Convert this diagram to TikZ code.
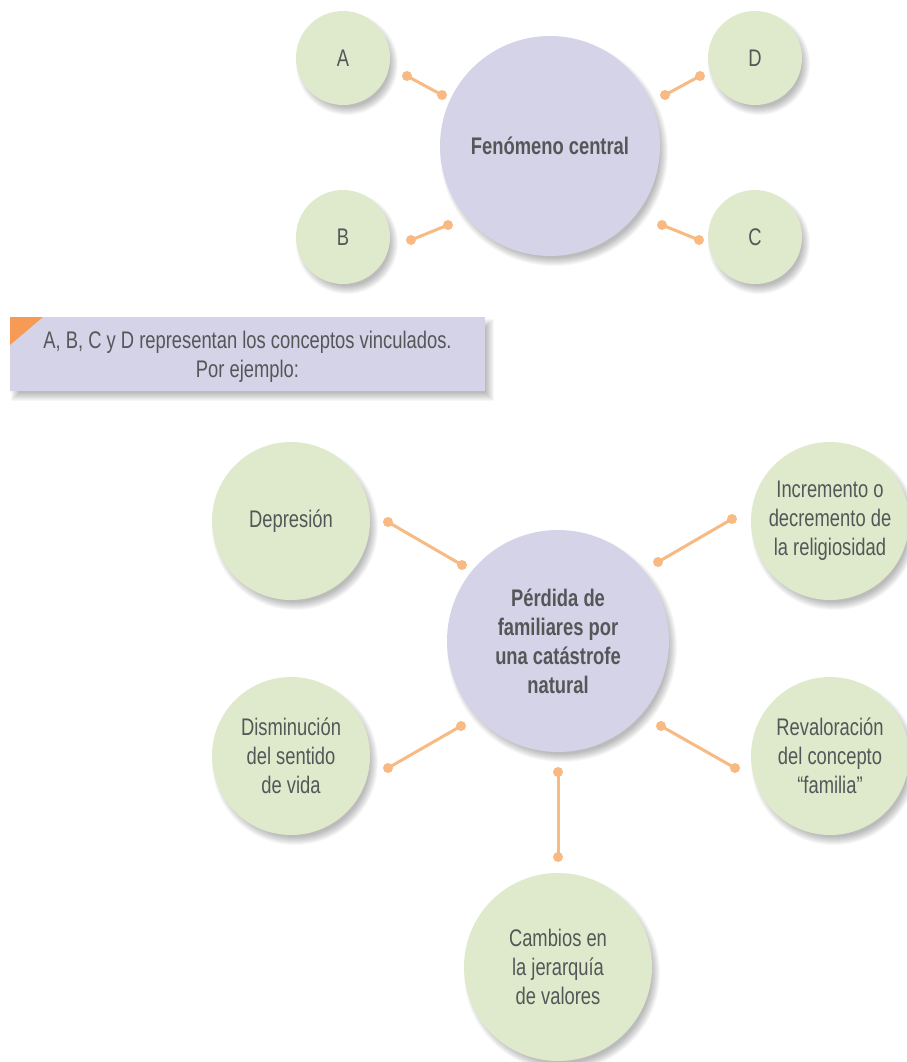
\documentclass[tikz,border=0pt]{standalone}
\usepackage{fontspec}
\setmainfont{Liberation Sans}[FakeStretch=0.765]
\definecolor{leaf}{RGB}{223,234,204}
\definecolor{lilac}{RGB}{213,211,232}
\definecolor{lineor}{RGB}{248,186,130}
\definecolor{triang}{RGB}{247,154,86}
\definecolor{txt}{RGB}{85,86,88}
\newcommand\softshadow[3]{%
  \foreach \k in {0,...,8}{%
    \fill[black,opacity=0.032] (#1+4,#2+6) circle[radius={(#3+4-\k)*1pt}];}}
\tikzset{
  bubble/.style={circle, fill=leaf, text=txt, inner sep=0pt, align=center,
    font=\fontsize{24}{29}\selectfont, minimum size=#1},
  core/.style={circle, fill=lilac, text=txt, inner sep=0pt, align=center,
    font=\fontsize{24}{29}\selectfont\bfseries, minimum size=#1},
  dotnode/.style={circle, fill=lineor, inner sep=0pt, minimum size=10pt},
  conn/.style={draw=lineor, line width=3pt}
}
\begin{document}
\begin{tikzpicture}[x=1pt,y=-1pt]
\useasboundingbox (0,0) rectangle (906,1062);
\fill[white] (0,0) rectangle (906,1062);

% ---------- top diagram ----------
\softshadow{550}{146}{110}
\softshadow{343}{58}{47}
\softshadow{755}{58}{47}
\softshadow{343}{237}{47}
\softshadow{755}{237}{47}
\node[core=220pt] (fc) at (550,146) {Fenómeno central};
\node[bubble=94pt] (A) at (343,58) {A};
\node[bubble=94pt] (D) at (755,58) {D};
\node[bubble=94pt] (B) at (343,237) {B};
\node[bubble=94pt] (C) at (755,237) {C};

\node[dotnode] (a1) at (407,76) {};
\node[dotnode] (a2) at (442,95) {};
\node[dotnode] (d1) at (665,95) {};
\node[dotnode] (d2) at (700,76) {};
\node[dotnode] (b1) at (411,240) {};
\node[dotnode] (b2) at (448,225) {};
\node[dotnode] (c1) at (662,225) {};
\node[dotnode] (c2) at (699,240) {};
\draw[conn] (a1.center) -- (a2.center);
\draw[conn] (d1.center) -- (d2.center);
\draw[conn] (b1.center) -- (b2.center);
\draw[conn] (c1.center) -- (c2.center);

% ---------- note box ----------
\foreach \k in {0,...,8}{%
  \fill[black,opacity=0.032] (11+\k,319+\k) rectangle (494-\k,401-\k);}
\fill[lilac] (10,317) rectangle (485,391);
\fill[triang] (10,317) -- (43,317) -- (10,345) -- cycle;
\node[text=txt, font=\fontsize{24}{29}\selectfont, align=center, anchor=base, inner sep=0pt]
  (note) at (247.5,377) {A, B, C y D representan los conceptos vinculados.\\Por ejemplo:};

% ---------- bottom diagram ----------
\softshadow{558}{641}{111}
\softshadow{291}{521}{79}
\softshadow{830}{521}{79}
\softshadow{291}{756}{79}
\softshadow{830}{756}{79}
\softshadow{558}{967}{94}
\node[core=222pt] (pf) at (558,641) {Pérdida de\\familiares por\\una catástrofe\\natural};
\node[bubble=158pt] (dep) at (291,521) {Depresión};
\node[bubble=158pt] (inc) at (830,521) {Incremento o\\decremento de\\la religiosidad};
\node[bubble=158pt] (dis) at (291,756) {Disminución\\del sentido\\de vida};
\node[bubble=158pt] (rev) at (830,756) {Revaloración\\del concepto\\“familia”};
\node[bubble=188pt] (cam) at (558,967) {Cambios en\\la jerarquía\\de valores};

\node[dotnode] (p1) at (388,522) {};
\node[dotnode] (p2) at (462,565) {};
\node[dotnode] (q1) at (658,562) {};
\node[dotnode] (q2) at (732,519) {};
\node[dotnode] (r1) at (388,768) {};
\node[dotnode] (r2) at (461,726) {};
\node[dotnode] (s1) at (661,726) {};
\node[dotnode] (s2) at (735,768) {};
\node[dotnode] (t1) at (558,772) {};
\node[dotnode] (t2) at (558,857) {};
\draw[conn] (p1.center) -- (p2.center);
\draw[conn] (q1.center) -- (q2.center);
\draw[conn] (r1.center) -- (r2.center);
\draw[conn] (s1.center) -- (s2.center);
\draw[conn] (t1.center) -- (t2.center);
\end{tikzpicture}
\end{document}
